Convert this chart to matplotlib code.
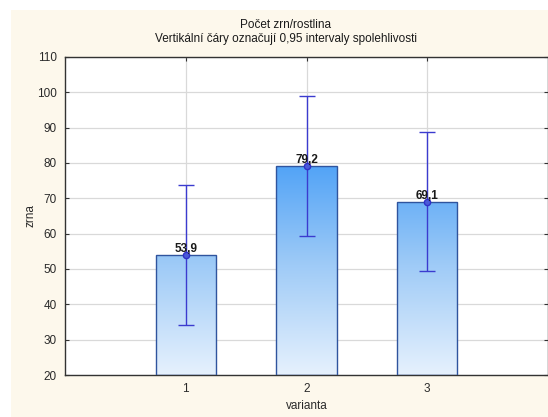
import numpy as np
import matplotlib
matplotlib.use("Agg")
import matplotlib.pyplot as plt
from matplotlib.colors import LinearSegmentedColormap

plt.rcParams['font.family'] = ['Liberation Sans', 'DejaVu Sans']

# data
varianta = [1, 2, 3]
means = [53.9, 79.2, 69.1]
ci_low = [34.1, 59.4, 49.3]
ci_high = [73.7, 99.0, 88.9]
labels = ['53,9', '79,2', '69,1']
yticks = [20, 30, 40, 50, 60, 70, 80, 90, 100, 110]

fig = plt.figure(figsize=(5.48, 4.17), dpi=100)
fig.patch.set_facecolor('white')
# cream panel behind the chart
bg = fig.add_axes([11/548, 0, 1 - 11/548, 1 - 10/417], zorder=-1)
bg.set_facecolor('#fdf8ec')
bg.set_xticks([])
bg.set_yticks([])
for s in bg.spines.values():
    s.set_visible(False)

ax = fig.add_axes([65/548, 1 - 375/417, 1 - 65/548, (375 - 57)/417], zorder=1)
ax.set_facecolor('white')

# gradient fill of the bars (darker at the top)
cmap = LinearSegmentedColormap.from_list('bars', ['#e6f1fd', '#9fcbf7', '#4a9ff6'])
grad = np.linspace(0, 1, 256).reshape(-1, 1)
bars = ax.bar(varianta, [m - 20 for m in means], bottom=20, width=0.5,
              facecolor='none', edgecolor='#2f549e', linewidth=1.0, zorder=3)
for b in bars:
    im = ax.imshow(grad, cmap=cmap, origin='lower', aspect='auto',
                   extent=[0, 4, 20, 82], zorder=2)
    im.set_clip_path(b)
ax.set_xlim(0, 4)
ax.set_ylim(20, 110)

err = [np.array(means) - np.array(ci_low), np.array(ci_high) - np.array(means)]
ax.errorbar(varianta, means, yerr=err, fmt='o', color='#3b3bcf', ecolor='#3b3bcf',
            elinewidth=1.0, capsize=6, capthick=1.0, markersize=4.5,
            markerfacecolor='#4a5ad8', markeredgecolor='#3030c8', zorder=4)

for x, m, t in zip(varianta, means, labels):
    ax.text(x, m + 0.8, t, ha='center', va='baseline', fontsize=8.5,
            fontweight='bold', color='#1a1a1a', zorder=5)

ax.set_xticks(varianta)
ax.set_yticks(yticks)
ax.grid(True, color='#d9d9d9', linewidth=0.9)
ax.set_axisbelow(True)
ax.tick_params(direction='in', length=3, width=0.8, labelsize=8.5,
               labelcolor='#2a2a2a', color='#333333', top=True, right=True, pad=6)
for s in ax.spines.values():
    s.set_color('#333333')
    s.set_linewidth(1.0)

ax.set_xlabel('varianta', fontsize=8.5, color='#2a2a2a')
ax.xaxis.set_label_coords(0.5, -25/318)
ax.set_ylabel('zrna', fontsize=8.5, color='#2a2a2a')
ax.yaxis.set_label_coords(-29/483, 0.5)

fig.text(286/548, 1 - 25/417, 'Počet zrn/rostlina', ha='center', va='center',
         fontsize=8.5, color='#1a1a1a')
fig.text(286/548, 1 - 39/417, 'Vertikální čáry označují 0,95 intervaly spolehlivosti',
         ha='center', va='center', fontsize=8.5, color='#1a1a1a')

fig.savefig('out.png', dpi=100)
